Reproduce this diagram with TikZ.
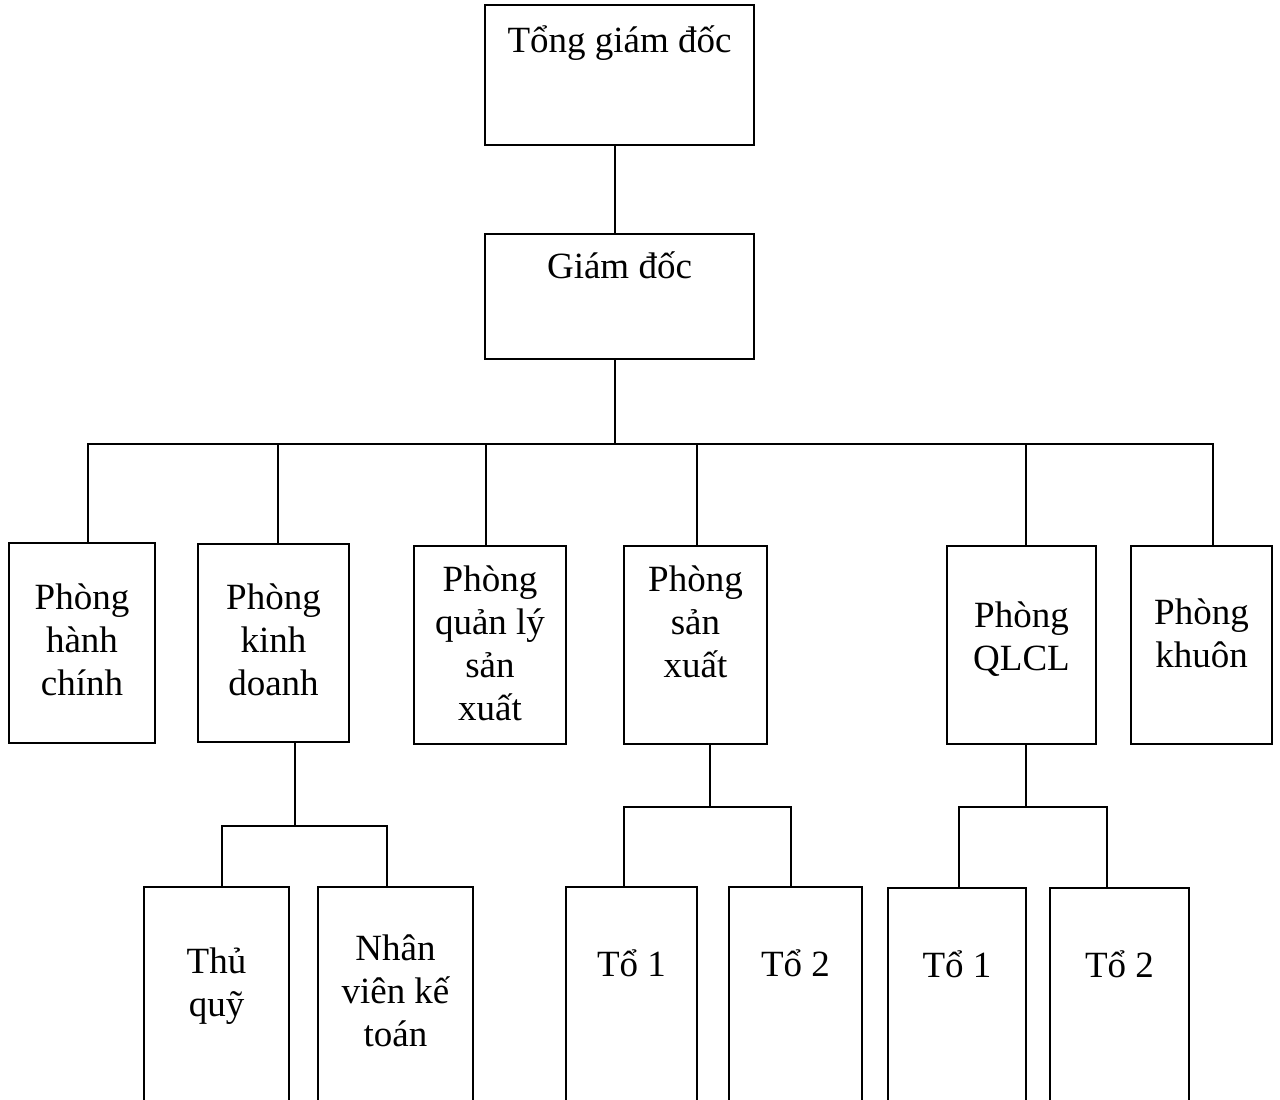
\documentclass[tikz,border=0pt]{standalone}
\usepackage{fontspec}
\setmainfont{Liberation Serif}
% tall invisible strut: fixes the top of every label relative to its first baseline
\newcommand\lineone{\rule{0pt}{36pt}}
\begin{document}
\begin{tikzpicture}[x=1pt,y=-1pt,
  box/.style={draw, line width=2pt, inner sep=0pt, fill=none},
  lbl/.style={anchor=north, inner sep=0pt, align=center,
              font=\fontsize{37}{43}\selectfont},
  conn/.style={draw, line width=2pt}]
\useasboundingbox (0,0) rectangle (1280,1100);
\fill[white] (0,0) rectangle (1280,1100);
\clip (0,0) rectangle (1280,1100);

% ---- top management ----
\node[box, minimum width=269pt, minimum height=140pt] (tgd) at (619.5,75) {};
\node[lbl] (tgd-t) at (619.5,16) {\lineone Tổng giám đốc};
\node[box, minimum width=269pt, minimum height=125pt] (gd) at (619.5,296.5) {};
\node[lbl] (gd-t) at (619.5,242) {\lineone Giám đốc};

% ---- departments ----
\node[box, minimum width=146pt, minimum height=200pt] (hc) at (82,643) {};
\node[lbl] (hc-t) at (82,573) {\lineone Phòng\\hành\\chính};
\node[box, minimum width=151pt, minimum height=198pt] (kd) at (273.5,643) {};
\node[lbl] (kd-t) at (273.5,573) {\lineone Phòng\\kinh\\doanh};
\node[box, minimum width=152pt, minimum height=198pt] (qlsx) at (490,645) {};
\node[lbl] (qlsx-t) at (490,555) {\lineone Phòng\\quản lý\\sản\\xuất};
\node[box, minimum width=143pt, minimum height=198pt] (sx) at (695.5,645) {};
\node[lbl] (sx-t) at (695.5,555) {\lineone Phòng\\sản\\xuất};
\node[box, minimum width=149pt, minimum height=198pt] (qlcl) at (1021.5,645) {};
\node[lbl] (qlcl-t) at (1021.5,591) {\lineone Phòng\\QLCL};
\node[box, minimum width=141pt, minimum height=198pt] (kh) at (1201.5,645) {};
\node[lbl] (kh-t) at (1201.5,588) {\lineone Phòng\\khuôn};

% ---- teams (boxes run past the lower edge) ----
\node[box, minimum width=145pt, minimum height=260pt] (tq) at (216.5,1017) {};
\node[lbl] (tq-t) at (216.5,937) {\lineone Thủ\\quỹ};
\node[box, minimum width=155pt, minimum height=260pt] (nv) at (395.5,1017) {};
\node[lbl] (nv-t) at (395.5,924) {\lineone Nhân\\viên kế\\toán};
\node[box, minimum width=131pt, minimum height=260pt] (sxa) at (631.5,1017) {};
\node[lbl] (sxa-t) at (631.5,940) {\lineone Tổ 1};
\node[box, minimum width=133pt, minimum height=260pt] (sxb) at (795.5,1017) {};
\node[lbl] (sxb-t) at (795.5,940) {\lineone Tổ 2};
\node[box, minimum width=138pt, minimum height=260pt] (cla) at (957,1018) {};
\node[lbl] (cla-t) at (957,941) {\lineone Tổ 1};
\node[box, minimum width=139pt, minimum height=260pt] (clb) at (1119.5,1018) {};
\node[lbl] (clb-t) at (1119.5,941) {\lineone Tổ 2};

% ---- connectors ----
\draw[conn] ([xshift=-4.5pt]tgd.south) -- ([xshift=-4.5pt]gd.north);
\coordinate (bus) at (615,444);
\draw[conn] ([xshift=-4.5pt]gd.south) -- (bus);
\draw[conn] (bus) -| ([xshift=6pt]hc.north);
\draw[conn] (bus) -| ([xshift=4.5pt]kd.north);
\draw[conn] (bus) -| ([xshift=-4pt]qlsx.north);
\draw[conn] (bus) -| ([xshift=1.5pt]sx.north);
\draw[conn] (bus) -| ([xshift=4.5pt]qlcl.north);
\draw[conn] (bus) -| ([xshift=11.5pt]kh.north);

\coordinate (kdfork) at (295,826);
\draw[conn] ([xshift=21.5pt]kd.south) -- (kdfork);
\draw[conn] (kdfork) -| ([xshift=5.5pt]tq.north);
\draw[conn] (kdfork) -| ([xshift=-8.5pt]nv.north);

\coordinate (sxfork) at (710,807);
\draw[conn] ([xshift=14.5pt]sx.south) -- (sxfork);
\draw[conn] (sxfork) -| ([xshift=-7.5pt]sxa.north);
\draw[conn] (sxfork) -| ([xshift=-4.5pt]sxb.north);

\coordinate (clfork) at (1026,807);
\draw[conn] ([xshift=4.5pt]qlcl.south) -- (clfork);
\draw[conn] (clfork) -| ([xshift=2pt]cla.north);
\draw[conn] (clfork) -| ([xshift=-12.5pt]clb.north);
\end{tikzpicture}
\end{document}
